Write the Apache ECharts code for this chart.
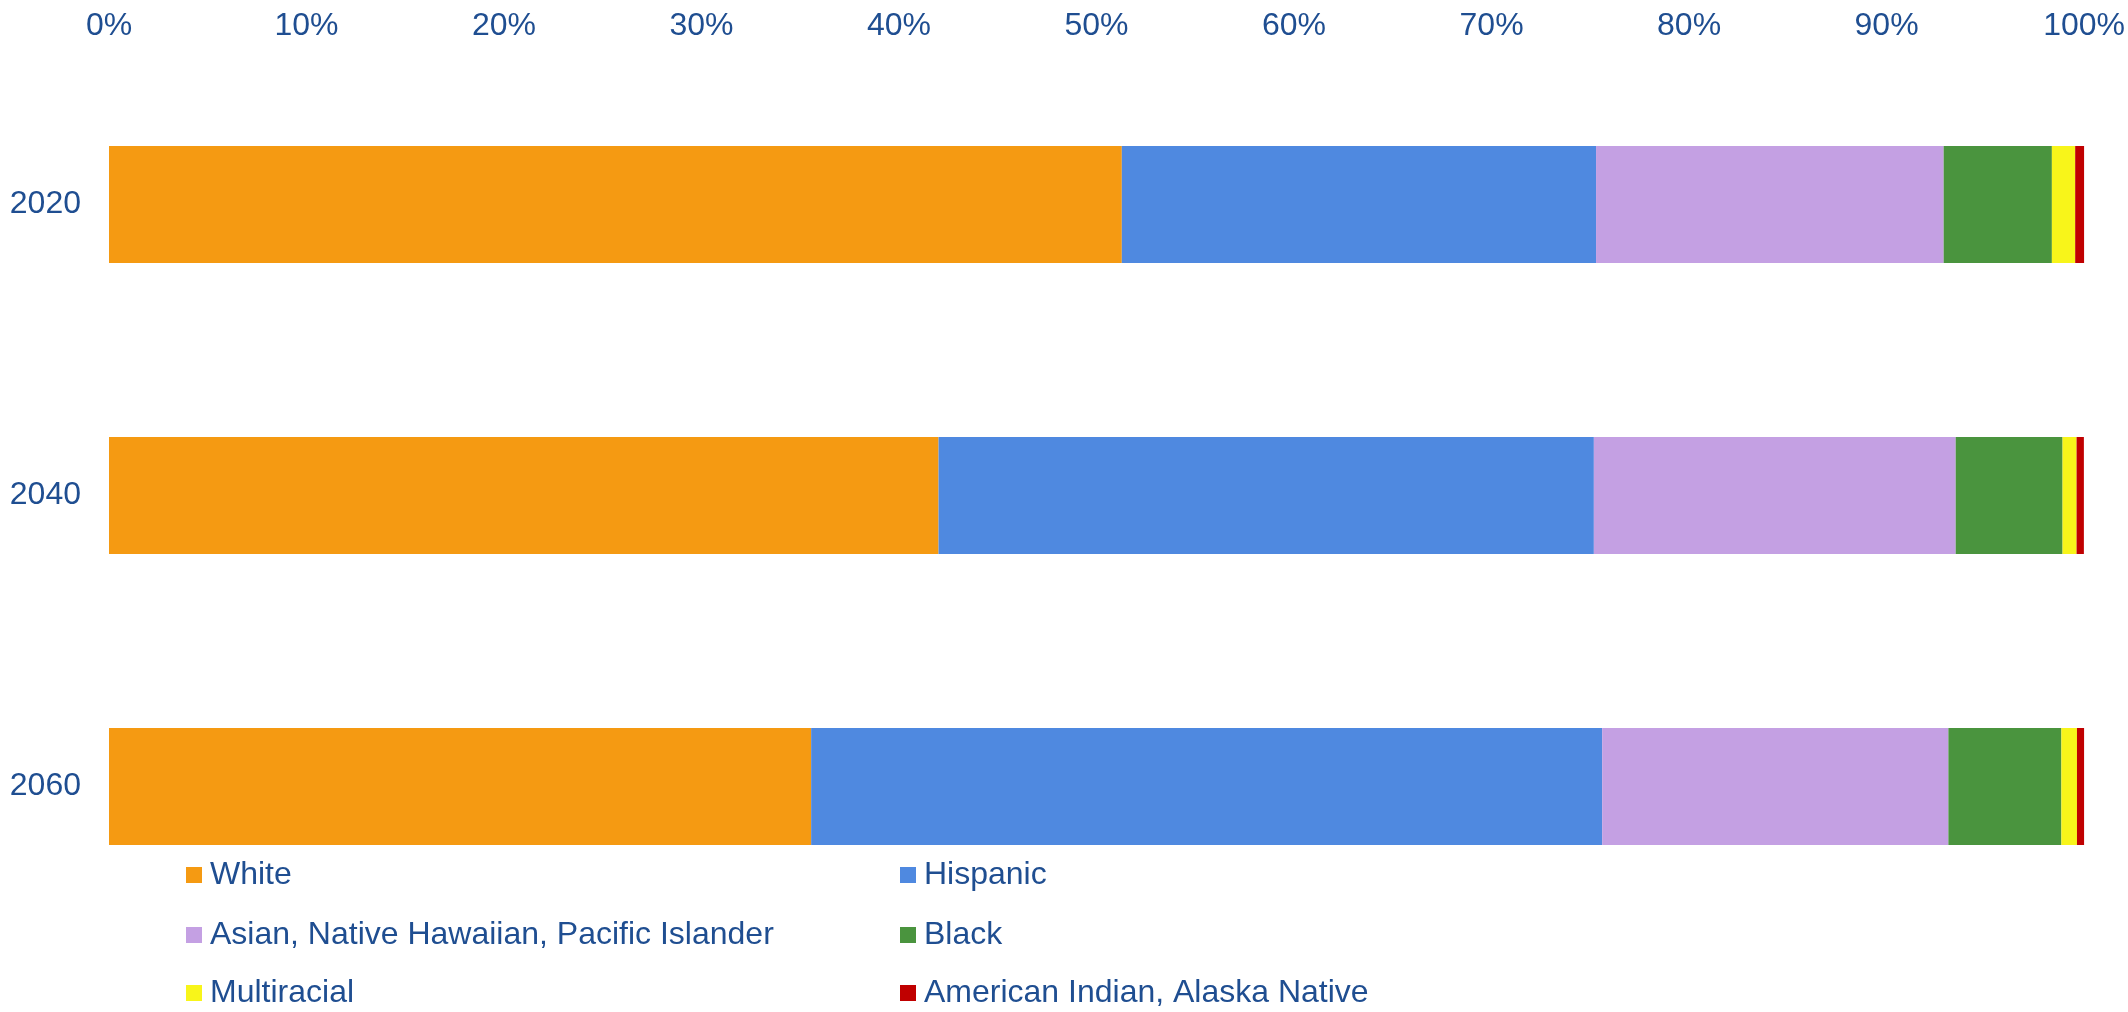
<!DOCTYPE html>
<html>
<head>
<meta charset="utf-8">
<title>Population by race and ethnicity</title>
<script src="https://cdn.jsdelivr.net/npm/echarts@6/dist/echarts.min.js"></script>
<style>
  html, body { margin: 0; padding: 0; background: #fff; }
  #chart { width: 2128px; height: 1012px; }
</style>
</head>
<body>
<div id="chart"></div>
<script>
// years shown top to bottom
const years = ["2020", "2040", "2060"];

// share of population, percent
const white = [51.28, 42.0, 35.55];
const hispanic = [24.01, 33.18, 40.05];
const asianNhpi = [17.6, 18.32, 17.53];
const black = [5.48, 5.41, 5.72];
const multiracial = [1.18, 0.71, 0.79];
const aian = [0.46, 0.37, 0.37];

const seriesNames = [
  "White",
  "Hispanic",
  "Asian, Native Hawaiian, Pacific Islander",
  "Black",
  "Multiracial",
  "American Indian, Alaska Native",
];
const seriesValues = [white, hispanic, asianNhpi, black, multiracial, aian];
const colors = ["#f59a12", "#4f89e0", "#c4a0e3", "#4a943e", "#f8f51a", "#c00000"];

const textColor = "#1f4e91";
const fontFamily = "Arial, 'Liberation Sans', sans-serif";

const chart = echarts.init(document.getElementById("chart"));

// legend: two columns, three rows, one legend per item
const legendCols = [186, 900];
const legendRows = [859, 919, 977];
const legends = seriesNames.map((name, i) => ({
  data: [name],
  left: legendCols[i % 2],
  top: legendRows[Math.floor(i / 2)],
  icon: "rect",
  itemWidth: 16,
  itemHeight: 16,
  selectedMode: false,
  padding: 0,
  textStyle: { color: textColor, fontSize: 32, fontFamily: fontFamily, padding: [0, 0, 0, 3] },
}));

const option = {
  animation: false,
  color: colors,
  grid: { left: 109, right: 43, top: 59, bottom: 80, containLabel: false },
  legend: legends,
  xAxis: {
    type: "value",
    position: "top",
    min: 0,
    max: 100,
    interval: 10,
    axisLine: { show: false },
    axisTick: { show: false },
    splitLine: { show: false },
    axisLabel: {
      formatter: "{value}%",
      color: textColor,
      fontSize: 32,
      fontFamily: fontFamily,
      margin: 17,
    },
  },
  yAxis: {
    type: "category",
    data: years,
    inverse: true,
    axisLine: { show: false },
    axisTick: { show: false },
    axisLabel: {
      color: textColor,
      fontSize: 32,
      fontFamily: fontFamily,
      margin: 28,
      padding: [6, 0, 0, 0],
    },
  },
  series: seriesNames.map((name, i) => ({
    name: name,
    type: "bar",
    stack: "total",
    barWidth: 117,
    data: seriesValues[i],
  })),
};

chart.setOption(option);
</script>
</body>
</html>
